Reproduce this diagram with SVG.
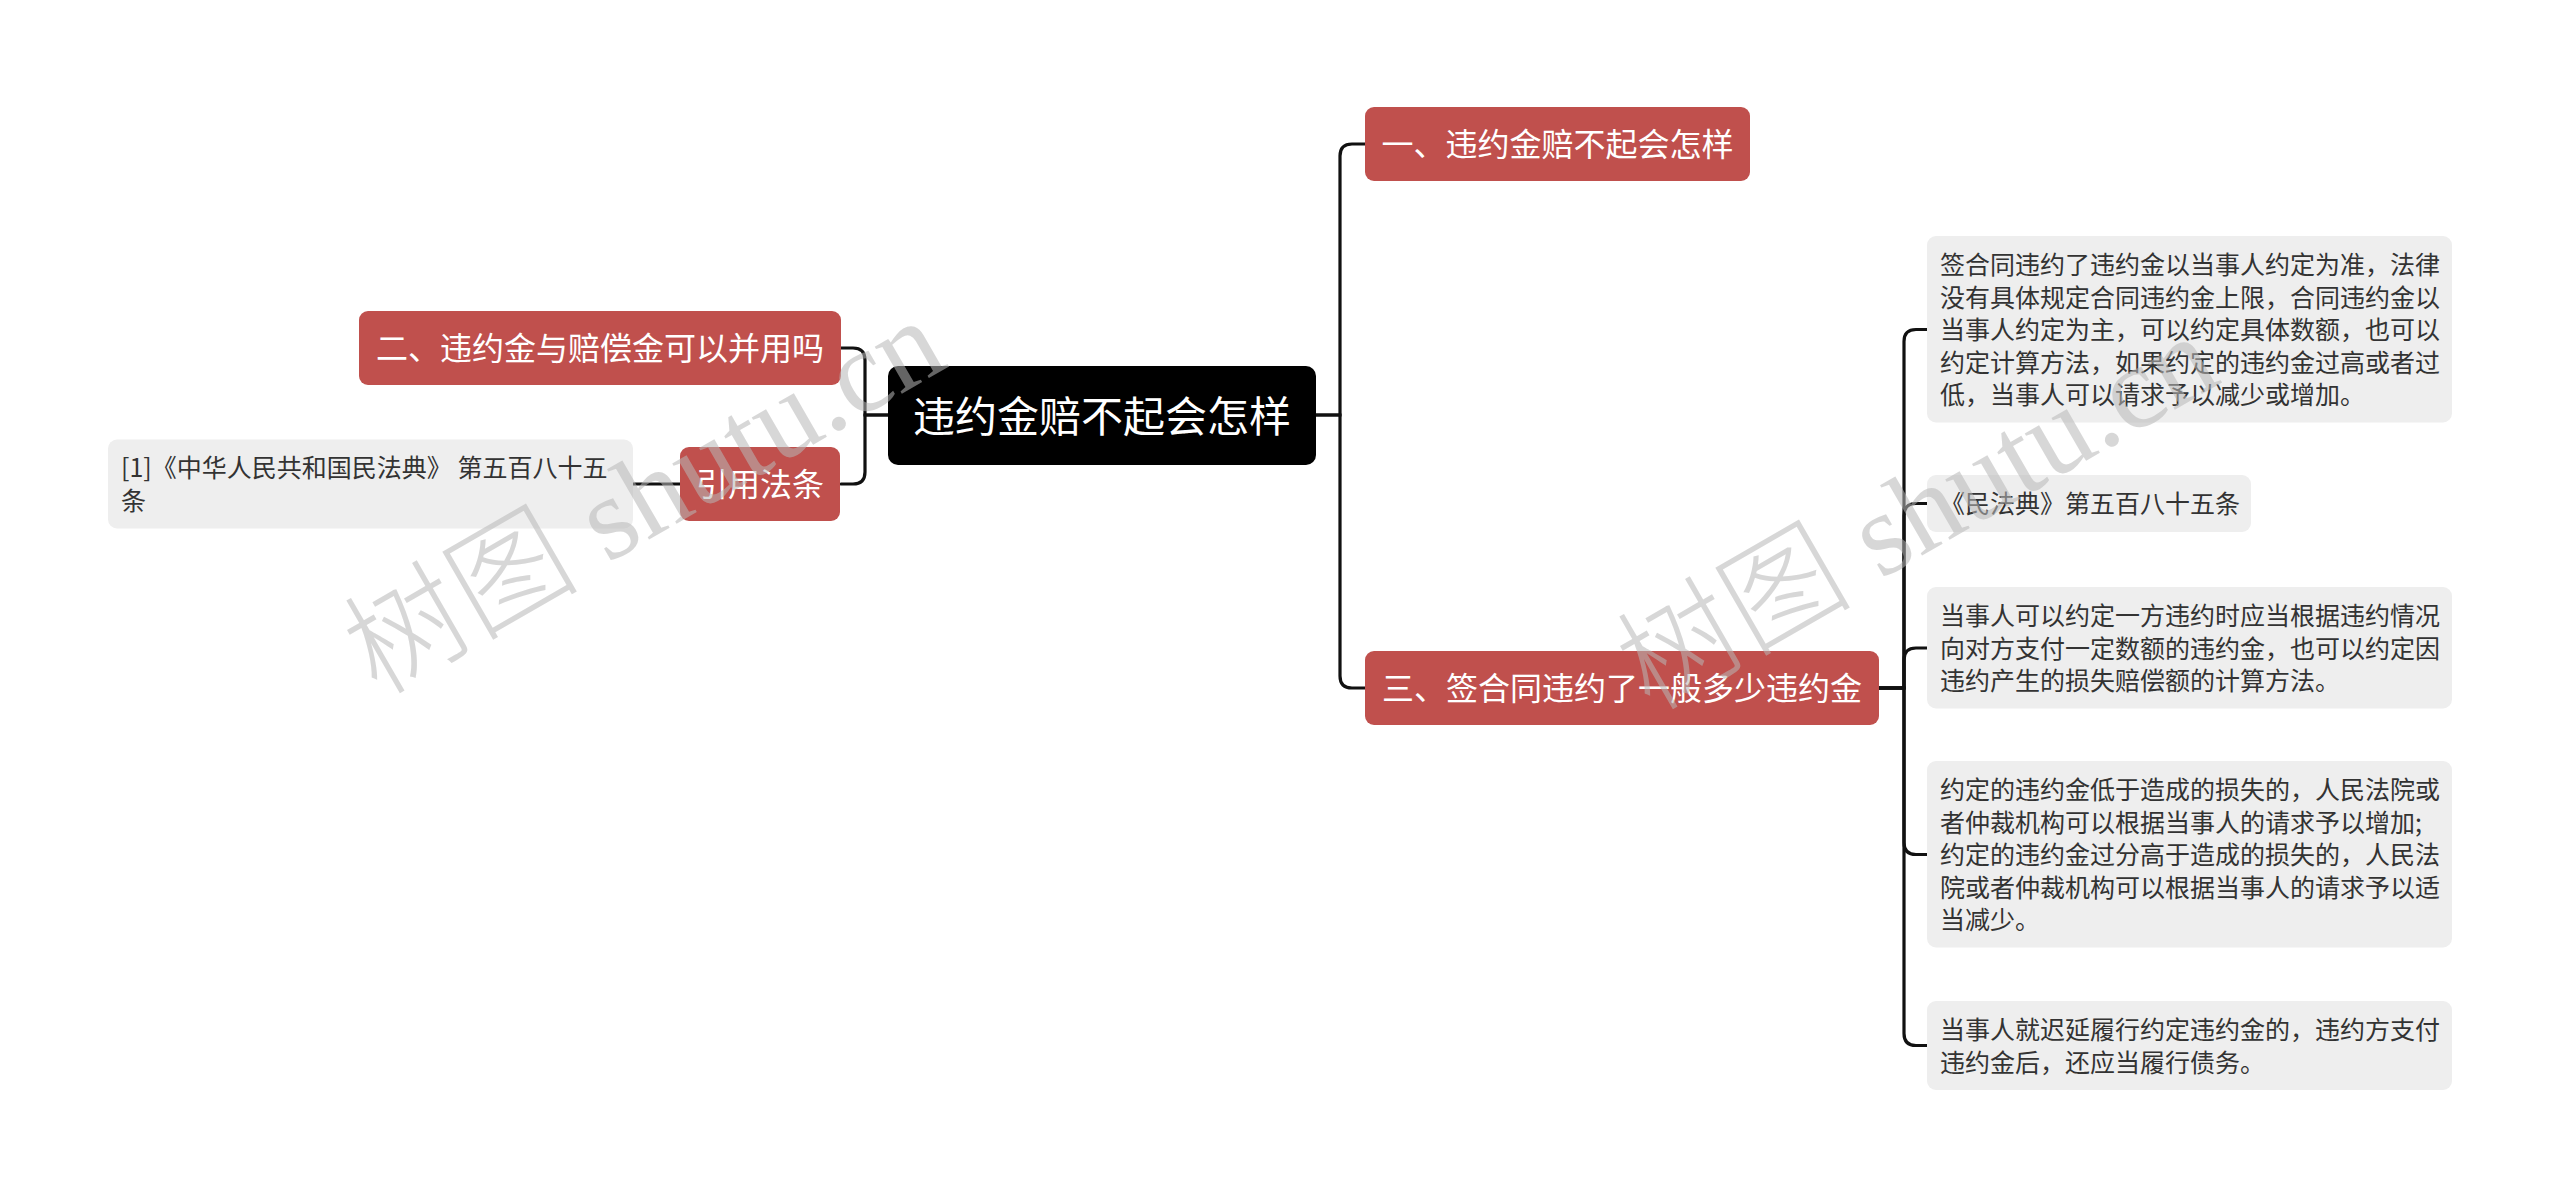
<svg xmlns="http://www.w3.org/2000/svg" width="2560" height="1199" viewBox="0 0 2560 1199">
<style>
.root{fill:#000}
.l1{fill:#C0504D}
.leaf{fill:#EEEEEE}
.rt{font-family:"Noto Sans CJK SC","Noto Sans",sans-serif;font-size:42px;fill:#fff;text-anchor:middle}
.t1{font-family:"Noto Sans CJK SC","Noto Sans",sans-serif;font-size:32px;fill:#fff;text-anchor:middle}
.lt{font-family:"Noto Sans CJK SC","Noto Sans",sans-serif;font-size:25px;fill:#333}
.conn path{fill:none;stroke:#111;stroke-width:3.2;stroke-linecap:round}
.wm{font-family:"Liberation Serif","Noto Sans CJK SC",serif;font-size:118px;font-weight:300;fill:#b8b8b8;opacity:0.55;text-anchor:middle}
</style>
<rect width="2560" height="1199" fill="#fff"/>
<g id="connectors" class="conn">
<path d="M1316 415 H1340 V156 Q1340 144 1352 144 H1365"/>
<path d="M1316 415 H1340 V676 Q1340 688 1352 688 H1365"/>
<path d="M888 415 H865 V360 Q865 348 853 348 H841"/>
<path d="M888 415 H865 V472 Q865 484 853 484 H841"/>
<path d="M680 484 H633"/>
<path d="M1879 688 H1904 V341.5 Q1904 329.5 1916 329.5 H1927"/>
<path d="M1879 688 H1904 V515.5 Q1904 503.5 1916 503.5 H1927"/>
<path d="M1879 688 H1904 V660 Q1904 648 1916 648 H1927"/>
<path d="M1879 688 H1904 V842.5 Q1904 854.5 1916 854.5 H1927"/>
<path d="M1879 688 H1904 V1033.5 Q1904 1045.5 1916 1045.5 H1927"/>
</g>
<g id="root">
<rect class="root" x="888" y="366" width="428" height="99" rx="10"/>
<text class="rt" x="1102" y="432">违约金赔不起会怎样</text>
</g>
<g id="n1">
<rect class="l1" x="1365" y="107" width="385" height="74" rx="9"/>
<text class="t1" x="1557.5" y="156">一、违约金赔不起会怎样</text>
</g>
<g id="n2">
<rect class="l1" x="359" y="311" width="482" height="74" rx="9"/>
<text class="t1" x="600" y="360">二、违约金与赔偿金可以并用吗</text>
</g>
<g id="n3">
<rect class="l1" x="1365" y="651" width="514" height="74" rx="9"/>
<text class="t1" x="1622" y="700">三、签合同违约了一般多少违约金</text>
</g>
<g id="n4">
<rect class="l1" x="680" y="447" width="160" height="74" rx="9"/>
<text class="t1" x="760" y="496">引用法条</text>
</g>
<g id="leaf-ref">
<rect class="leaf" x="108" y="439.5" width="525" height="89" rx="9"/>
<text class="lt" x="121" y="477">[1]《中华人民共和国民法典》 第五百八十五<tspan x="121" dy="32.5">条</tspan></text>
</g>
<g id="leaf1">
<rect class="leaf" x="1927" y="236" width="525" height="186.5" rx="9"/>
<text class="lt" x="1940" y="274">签合同违约了违约金以当事人约定为准，法律<tspan x="1940" dy="32.5">没有具体规定合同违约金上限，合同违约金以</tspan><tspan x="1940" dy="32.5">当事人约定为主，可以约定具体数额，也可以</tspan><tspan x="1940" dy="32.5">约定计算方法，如果约定的违约金过高或者过</tspan><tspan x="1940" dy="32.5">低，当事人可以请求予以减少或增加。</tspan></text>
</g>
<g id="leaf2">
<rect class="leaf" x="1927" y="475" width="324" height="57" rx="9"/>
<text class="lt" x="1940" y="513">《民法典》第五百八十五条</text>
</g>
<g id="leaf3">
<rect class="leaf" x="1927" y="587" width="525" height="121.5" rx="9"/>
<text class="lt" x="1940" y="625">当事人可以约定一方违约时应当根据违约情况<tspan x="1940" dy="32.5">向对方支付一定数额的违约金，也可以约定因</tspan><tspan x="1940" dy="32.5">违约产生的损失赔偿额的计算方法。</tspan></text>
</g>
<g id="leaf4">
<rect class="leaf" x="1927" y="761" width="525" height="186.5" rx="9"/>
<text class="lt" x="1940" y="799">约定的违约金低于造成的损失的，人民法院或<tspan x="1940" dy="32.5">者仲裁机构可以根据当事人的请求予以增加;</tspan><tspan x="1940" dy="32.5">约定的违约金过分高于造成的损失的，人民法</tspan><tspan x="1940" dy="32.5">院或者仲裁机构可以根据当事人的请求予以适</tspan><tspan x="1940" dy="32.5">当减少。</tspan></text>
</g>
<g id="leaf5">
<rect class="leaf" x="1927" y="1001" width="525" height="89" rx="9"/>
<text class="lt" x="1940" y="1039">当事人就迟延履行约定违约金的，违约方支付<tspan x="1940" dy="32.5">违约金后，还应当履行债务。</tspan></text>
</g>
<g id="watermarks">
<text class="wm" transform="translate(645 498) rotate(-30)" x="0" y="38">树图 shutu.cn</text>
<text class="wm" transform="translate(1918 514) rotate(-30)" x="0" y="38">树图 shutu.cn</text>
</g>
</svg>
